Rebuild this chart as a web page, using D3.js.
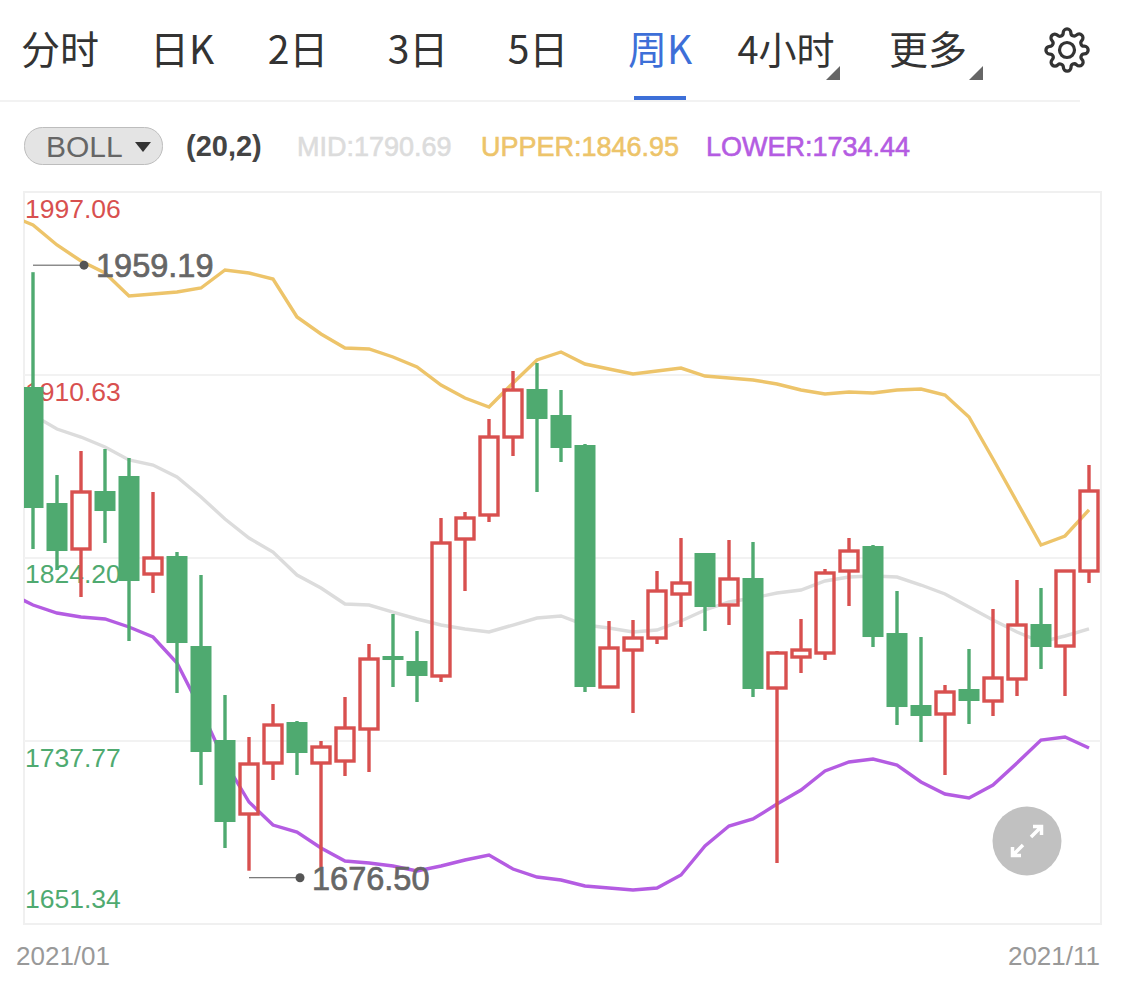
<!DOCTYPE html>
<html><head><meta charset="utf-8">
<script src="https://cdn.jsdelivr.net/npm/d3@7"></script>
<style>html,body{margin:0;padding:0;background:#fff;overflow:hidden}svg{display:block}</style>
</head><body><svg id="c" width="1125" height="994"></svg>
<script>
const tabs=["分时","日K","2日","3日","5日","周K","4小时","更多"];
const opens=[1904.96,1850.17,1828.45,1855.84,1862.93,1816.64,1825.14,1782.63,1738.24,1703.29,1727.38,1746.74,1727.38,1728.32,1743.43,1777.91,1775.55,1768.47,1833.17,1844.51,1881.34,1904.02,1891.74,1877.57,1763.27,1780.74,1786.41,1807.19,1826.56,1802.00,1814.75,1762.80,1777.44,1779.33,1818.06,1829.86,1788.77,1754.77,1750.52,1762.33,1756.66,1767.05,1793.02,1782.63,1818.06];
const closes=[1847.81,1827.50,1855.37,1846.39,1813.33,1824.20,1784.05,1732.57,1699.51,1726.90,1745.32,1732.10,1734.93,1743.91,1776.49,1776.02,1768.47,1831.28,1843.09,1881.34,1903.54,1889.85,1876.15,1763.27,1781.69,1786.41,1808.61,1812.39,1801.05,1814.28,1762.33,1779.33,1780.74,1817.11,1827.50,1786.88,1753.82,1749.57,1760.91,1756.66,1767.52,1792.55,1782.16,1818.06,1855.84];
const highs=[1959.19,1863.40,1874.73,1875.68,1871.43,1855.37,1827.03,1816.17,1759.49,1739.65,1755.24,1747.21,1737.77,1758.55,1783.58,1797.75,1789.72,1843.09,1845.92,1889.85,1912.52,1916.30,1903.54,1878.04,1794.44,1794.91,1818.06,1833.64,1826.56,1832.70,1831.75,1780.27,1795.39,1819.00,1833.64,1830.34,1808.61,1786.88,1764.21,1781.22,1800.11,1813.81,1810.03,1818.06,1868.12];
const lows=[1828.45,1818.53,1805.78,1831.28,1785.00,1807.67,1760.44,1716.98,1687.23,1676.50,1719.35,1721.71,1678.26,1721.24,1723.12,1763.27,1756.19,1765.63,1808.61,1841.20,1872.37,1855.37,1869.54,1760.91,1763.27,1750.99,1783.58,1791.61,1789.72,1792.55,1758.55,1680.15,1769.88,1776.02,1801.53,1782.16,1745.32,1737.29,1721.71,1745.79,1749.57,1759.02,1771.77,1759.02,1812.39];
const upper=[1986.20,1981.47,1972.03,1964.47,1958.80,1947.94,1948.88,1949.83,1951.72,1960.22,1958.80,1955.97,1938.02,1929.99,1923.38,1922.91,1919.13,1914.41,1905.90,1899.76,1895.51,1906.85,1917.71,1921.49,1915.82,1913.46,1911.10,1912.52,1913.93,1910.16,1909.21,1908.27,1906.38,1903.54,1901.65,1902.60,1902.13,1903.54,1904.02,1901.18,1890.79,1870.95,1850.65,1830.34,1834.59,1846.95];
const mid=[1895.51,1891.74,1885.12,1881.34,1876.62,1870.48,1868.12,1862.45,1853.01,1842.62,1833.64,1827.03,1816.17,1810.03,1802.47,1802.00,1798.69,1795.39,1792.55,1790.66,1789.25,1792.55,1795.86,1796.80,1792.55,1791.14,1789.25,1790.19,1794.44,1799.64,1803.42,1805.30,1807.67,1809.08,1813.33,1815.22,1815.70,1815.22,1811.44,1807.19,1801.05,1794.91,1789.25,1784.52,1787.36,1790.69];
const lower=[1807.67,1802.00,1798.22,1796.33,1795.39,1791.61,1786.88,1774.61,1752.41,1727.85,1708.96,1698.09,1694.79,1687.23,1681.09,1680.15,1678.73,1676.37,1678.73,1681.56,1683.92,1677.31,1673.53,1672.12,1669.28,1668.34,1667.39,1668.34,1674.48,1688.17,1697.62,1700.93,1708.01,1714.62,1723.60,1727.85,1729.26,1726.43,1718.40,1712.73,1710.84,1716.98,1727.38,1738.24,1739.65,1734.44];
const yTicks=[1997.06,1910.63,1824.20,1737.77,1651.34];
const dates=["2021/01","2021/11"];
const legend=[["MID:1790.69","#dcdcdc"],["UPPER:1846.95","#edc46a"],["LOWER:1734.44","#b45ce2"]];

const RED="#d8504f",GREEN="#4faa70",SANS="'Liberation Sans',Arial,sans-serif",CJK="'Noto Sans CJK SC','Liberation Sans',sans-serif";
const svg=d3.select("#c");
const L=24,R=1101,T=192,B=924;
const x=d3.scaleLinear().domain([0,44]).range([33,1089]);
const y=d3.scaleLinear().domain([1651.34,1997.06]).range([B,T]);
const txt=(g,s,px,py,size,fill,o={})=>g.append("text").text(s).attr("x",px).attr("y",py)
  .attr("font-size",size).attr("fill",fill).attr("font-family",o.f||SANS).attr("text-anchor",o.a||"start")
  .attr("font-weight",o.w||400);

// header tabs
const tabX=[60,182,298,418,538,660,786,928];
const tabSize=[39,39,39,39,39,39,38,39];
const head=svg.append("g");
tabs.forEach((t,i)=>txt(head,t,tabX[i],64,tabSize[i],i===5?"#3d6fd8":"#333",{f:CJK,a:"middle"}));
head.append("rect").attr("x",634).attr("y",96).attr("width",52).attr("height",4).attr("fill","#3d6fd8");
head.append("line").attr("x1",0).attr("x2",1080).attr("y1",101).attr("y2",101).attr("stroke","#f2f2f2").attr("stroke-width",2);
[[840,66],[983,66]].forEach(p=>head.append("path").attr("d",`M${p[0]} ${p[1]}L${p[0]} ${p[1]+14}L${p[0]-14} ${p[1]+14}Z`).attr("fill","#666"));
head.append("path").attr("transform","translate(1044,27) scale(1.92)")
 .attr("d","M19.4 15a1.65 1.65 0 0 0 .33 1.82l.06.06a2 2 0 0 1 0 2.83 2 2 0 0 1-2.83 0l-.06-.06a1.65 1.65 0 0 0-1.82-.33 1.65 1.65 0 0 0-1 1.51V21a2 2 0 0 1-2 2 2 2 0 0 1-2-2v-.09A1.65 1.65 0 0 0 9 19.4a1.65 1.65 0 0 0-1.82.33l-.06.06a2 2 0 0 1-2.83 0 2 2 0 0 1 0-2.83l.06-.06a1.65 1.65 0 0 0 .33-1.82 1.65 1.65 0 0 0-1.51-1H3a2 2 0 0 1-2-2 2 2 0 0 1 2-2h.09A1.65 1.65 0 0 0 4.6 9a1.65 1.65 0 0 0-.33-1.82l-.06-.06a2 2 0 0 1 0-2.83 2 2 0 0 1 2.83 0l.06.06a1.65 1.65 0 0 0 1.82.33H9a1.65 1.65 0 0 0 1-1.51V3a2 2 0 0 1 2-2 2 2 0 0 1 2 2v.09a1.65 1.65 0 0 0 1 1.51 1.65 1.65 0 0 0 1.82-.33l.06-.06a2 2 0 0 1 2.83 0 2 2 0 0 1 0 2.83l-.06.06a1.65 1.65 0 0 0-.33 1.82V9a1.65 1.65 0 0 0 1.51 1H21a2 2 0 0 1 2 2 2 2 0 0 1-2 2h-.09a1.65 1.65 0 0 0-1.51 1z")
 .attr("fill","none").attr("stroke","#333").attr("stroke-width",1.7);
head.append("circle").attr("cx",1067).attr("cy",50).attr("r",7.5).attr("fill","none").attr("stroke","#333").attr("stroke-width",3.2);

// indicator row
const ind=svg.append("g");
ind.append("rect").attr("x",24.5).attr("y",127.5).attr("width",138).attr("height",37).attr("rx",18).attr("fill","#e4e4e4").attr("stroke","#bdbdbd");
txt(ind,"BOLL",46,157,30,"#666");
ind.append("path").attr("d","M135 142L151 142L143 152Z").attr("fill","#333");
txt(ind,"(20,2)",186,156,29,"#444",{w:700});
const legX=[297,481,706];
legend.forEach((d,i)=>txt(ind,d[0],legX[i],156,27,d[1]).attr("stroke",d[1]).attr("stroke-width",.6));

// chart frame and grid
const plot=svg.append("g");
plot.append("rect").attr("x",L).attr("y",T).attr("width",R-L).attr("height",B-T).attr("fill","none").attr("stroke","#f0f0f0").attr("stroke-width",2);
plot.selectAll("line.g").data(yTicks.slice(1,4)).join("line").attr("class","g")
 .attr("x1",L).attr("x2",R).attr("y1",d=>y(d)).attr("y2",d=>y(d)).attr("stroke","#f2f2f2").attr("stroke-width",2);
const labOff=[26,26,25,26,-16];
yTicks.forEach((v,i)=>txt(plot,v.toFixed(2),25,y(v)+labOff[i],26.5,i<2?RED:GREEN));

svg.append("defs").append("clipPath").attr("id","clip").append("rect").attr("x",L).attr("y",T).attr("width",R-L).attr("height",B-T);
const inner=svg.append("g").attr("clip-path","url(#clip)");
const ln=d3.line().x((d,i)=>x(i-1)).y(d=>y(d));
[[mid,"#dcdcdc"],[upper,"#edc46a"],[lower,"#b45ce2"]].forEach(([s,c])=>inner.append("path").attr("d",ln(s)).attr("fill","none").attr("stroke",c).attr("stroke-width",3.4));

// candles
const cand=d3.range(opens.length);
const g=inner.selectAll("g.k").data(cand).join("g").attr("class","k");
g.each(function(i){
  const s=d3.select(this),up=closes[i]>=opens[i],col=up?RED:GREEN;
  const top=Math.max(opens[i],closes[i]),bot=Math.min(opens[i],closes[i]),cx=x(i);
  const w=(a,b)=>s.append("line").attr("x1",cx).attr("x2",cx).attr("y1",y(a)).attr("y2",y(b)).attr("stroke",col).attr("stroke-width",3.4);
  w(highs[i],top);w(bot,lows[i]);
  if(up)s.append("rect").attr("x",cx-9).attr("width",18).attr("y",y(top)).attr("height",y(bot)-y(top)).attr("fill","none").attr("stroke",col).attr("stroke-width",3.4);
  else s.append("rect").attr("x",cx-10.5).attr("width",21).attr("y",y(top)).attr("height",y(bot)-y(top)).attr("fill",col);
});

// high / low annotations
const iMax=d3.greatestIndex(highs),iMin=d3.leastIndex(lows);
[[iMax,highs[iMax],-7],[iMin,lows[iMin],7]].forEach(([i,v,dy])=>{
  const a=svg.append("g"),py=y(v)+dy,cx=x(i);
  a.append("line").attr("x1",cx).attr("x2",cx+51).attr("y1",py).attr("y2",py).attr("stroke","#555").attr("stroke-width",1);
  a.append("circle").attr("cx",cx+51).attr("cy",py).attr("r",4.5).attr("fill","#555");
  txt(a,v.toFixed(2),cx+63,py+12,32.5,"#666").attr("stroke","#666").attr("stroke-width",.7);
});

// dates
txt(svg,dates[0],16,965,26,"#999");
txt(svg,dates[1],1100,965,26,"#999",{a:"end"});

// expand button
const ex=svg.append("g").attr("transform","translate(1027,841)");
ex.append("circle").attr("r",34.5).attr("fill","#c1c1c1");
ex.append("path").attr("d","M4 -4L13 -13M6 -14.5L14.5 -14.5L14.5 -6M-4 4L-13 13M-6 14.5L-14.5 14.5L-14.5 6").attr("fill","none").attr("stroke","#fff").attr("stroke-width",3.5);
</script></body></html>
